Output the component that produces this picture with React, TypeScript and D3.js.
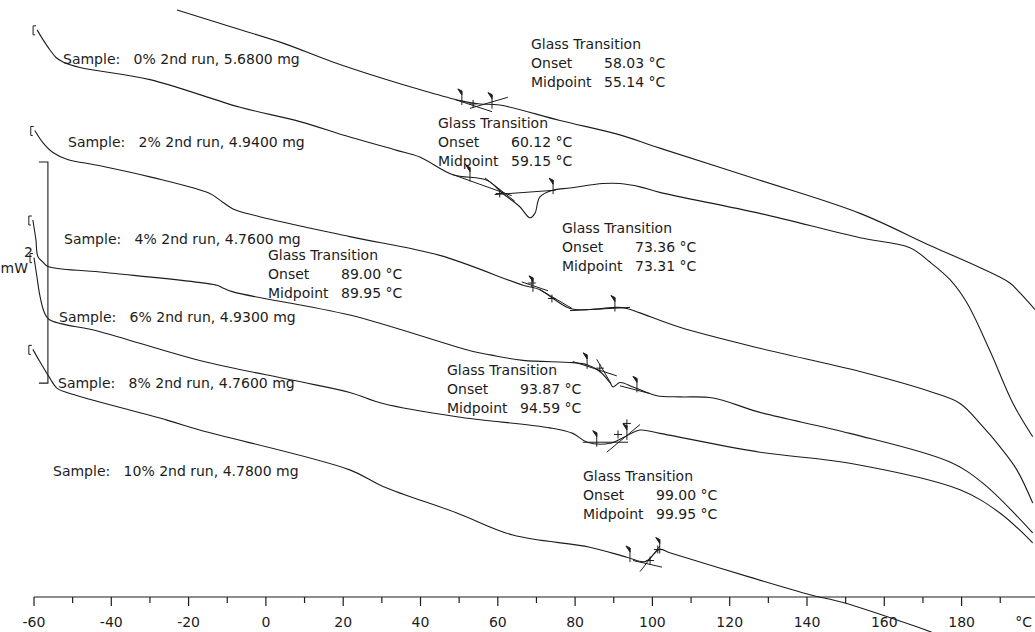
import * as d3 from 'd3';

const W = 1035;
const H = 632;

// temperature (°C) and heat flow (mW, curves stacked with their own offsets)
const run1Temp = [-23.0, -9.3, 4.4, 17.3, 30.3, 39.8, 50.2, 55.4, 60.5, 76.1, 91.6, 101.9, 127.8, 153.7, 171.8, 184.7, 192.5, 195.1, 199.0];
const run1Flow = [-0.09, -0.24, -0.39, -0.56, -0.71, -0.81, -0.91, -0.94, -0.95, -1.09, -1.22, -1.34, -1.63, -1.93, -2.22, -2.42, -2.56, -2.65, -2.80];

const run2Temp = [-59.2, -58.0, -55.9, -54.3, -52.5, -48.1, -30.0, -6.7, 8.8, 21.7, 33.9, 39.8, 48.4, 57.2, 61.3, 65.7, 68.3, 69.6, 70.9, 74.3, 78.7, 87.2, 91.6, 96.8, 101.9, 127.8, 153.7, 166.6, 171.8, 177.0, 181.4, 187.3, 193.3, 198.4];
const run2Flow = [-0.27, -0.34, -0.45, -0.52, -0.56, -0.61, -0.72, -0.97, -1.10, -1.24, -1.36, -1.42, -1.58, -1.63, -1.75, -1.87, -1.97, -1.93, -1.78, -1.72, -1.70, -1.66, -1.66, -1.69, -1.74, -1.93, -2.15, -2.24, -2.37, -2.53, -2.74, -3.17, -3.65, -3.95];

const run3Temp = [-59.8, -57.7, -55.1, -51.5, -42.9, -30.0, -14.5, -11.9, -8.5, -1.6, 21.7, 45.0, 66.5, 70.9, 74.3, 78.7, 83.8, 90.8, 93.4, 96.8, 107.1, 127.8, 153.7, 172.6, 179.6, 185.5, 189.9, 194.3, 198.4];
const run3Flow = [-1.18, -1.29, -1.38, -1.44, -1.50, -1.60, -1.75, -1.81, -1.89, -1.96, -2.14, -2.31, -2.58, -2.62, -2.70, -2.79, -2.80, -2.78, -2.79, -2.83, -2.96, -3.15, -3.36, -3.55, -3.65, -3.86, -4.04, -4.25, -4.55];

const run4Temp = [-60.3, -59.5, -59.0, -57.7, -56.4, -42.9, -12.7, -11.4, -8.5, 21.7, 53.6, 58.0, 66.5, 79.4, 83.1, 86.4, 89.0, 89.8, 91.6, 95.0, 101.2, 107.1, 115.7, 127.8, 151.1, 177.0, 185.5, 198.4];
const run4Flow = [-1.99, -2.17, -2.32, -2.37, -2.41, -2.46, -2.58, -2.60, -2.64, -2.85, -3.18, -3.21, -3.26, -3.28, -3.30, -3.36, -3.46, -3.50, -3.46, -3.50, -3.58, -3.59, -3.60, -3.73, -3.92, -4.18, -4.37, -4.82];

const run5Temp = [-60.0, -59.3, -58.5, -57.4, -56.1, -42.9, -17.1, 7.0, 21.7, 30.3, 49.4, 73.5, 79.4, 83.1, 89.0, 92.9, 96.8, 101.9, 127.8, 151.1, 179.6, 189.9, 198.4];
const run5Flow = [-2.33, -2.49, -2.67, -2.82, -2.89, -3.00, -3.26, -3.44, -3.55, -3.65, -3.77, -3.87, -3.92, -4.00, -4.01, -3.95, -3.89, -3.92, -4.09, -4.19, -4.43, -4.64, -4.91];

const run6Temp = [-60.3, -58.5, -55.9, -54.1, -51.5, -25.6, -17.1, 21.7, 30.3, 49.4, 63.9, 83.8, 93.4, 98.1, 101.9, 104.5, 125.2, 140.8, 149.3, 168.4, 173.1];
const run6Flow = [-3.16, -3.27, -3.42, -3.51, -3.55, -3.80, -3.89, -4.25, -4.40, -4.64, -4.84, -4.95, -5.04, -5.08, -4.97, -5.00, -5.22, -5.38, -5.45, -5.67, -5.73];

const runTemps = [run1Temp, run2Temp, run3Temp, run4Temp, run5Temp, run6Temp];
const runFlows = [run1Flow, run2Flow, run3Flow, run4Flow, run5Flow, run6Flow];
const runHasStart = [false, true, true, true, true, true];

const sampleLabels = [
  'Sample:   0% 2nd run, 5.6800 mg',
  'Sample:   2% 2nd run, 4.9400 mg',
  'Sample:   4% 2nd run, 4.7600 mg',
  'Sample:   6% 2nd run, 4.9300 mg',
  'Sample:   8% 2nd run, 4.7600 mg',
  'Sample:   10% 2nd run, 4.7800 mg',
];

// glass transition evaluations, one per run
const tgOnset = ['58.03', '60.12', '73.36', '89.00', '93.87', '99.00'];
const tgMidpoint = ['55.14', '59.15', '73.31', '89.95', '94.59', '99.95'];
const tgLimits = [[50.7, 58.5], [52.8, 74.3], [69.1, 90.3], [83.1, 96.0], [85.6, 93.4], [94.2, 101.9]];
const tgTangents = [
  [[48.9, -0.90, 58.5, -1.01], [52.8, -0.98, 62.6, -0.88]],
  [[48.4, -1.58, 63.6, -1.77], [56.7, -1.61, 64.4, -1.82], [59.2, -1.76, 75.0, -1.72]],
  [[66.2, -2.55, 73.0, -2.63], [70.9, -2.62, 79.2, -2.79], [78.7, -2.81, 94.2, -2.78]],
  [[79.4, -3.27, 90.8, -3.40], [85.6, -3.25, 89.3, -3.47], [91.6, -3.49, 99.4, -3.56]],
  [[82.0, -4.00, 93.7, -4.00], [88.2, -4.09, 96.8, -3.84]],
  [[95.0, -5.07, 102.5, -5.13], [96.8, -5.17, 101.9, -4.94]],
];
const tgMarks = [
  [[53.6, -0.94]],
  [[60.5, -1.75]],
  [[68.8, -2.56], [74.0, -2.70]],
  [[86.4, -3.33]],
  [[91.1, -3.93], [93.4, -3.83]],
  [[99.4, -5.07], [101.4, -4.97]],
];

const majorTicks = [-60, -40, -20, 0, 20, 40, 60, 80, 100, 120, 140, 160, 180];
const minorTicks = [-50, -30, -10, 10, 30, 50, 70, 90, 110, 130, 150, 170, 190];

// scale bar: 2 mW
const barTemp = -56.4;
const barFlow = [-1.465, -3.465];

// layout (px)
const labelPos = [[63, 64], [68, 147], [64, 244], [59, 322], [58, 388], [53, 476]];
const tgTextPos = [[531, 49], [438, 128], [562, 233], [268, 260], [447, 375], [583, 481]];
const axisY = 597;
const font = 'DejaVu Sans';
const ink = '#1c1c1c';

export default function App() {
  const x = d3.scaleLinear().domain([-60, 200]).range([34, 34 + 260 * 3.865]);
  const y = d3.scaleLinear().domain([0, -5.4]).range([0, axisY]);

  const line = d3.line<[number, number]>()
    .x(d => x(d[0]))
    .y(d => y(d[1]))
    .curve(d3.curveCatmullRom.alpha(0.5));

  const runs = runTemps.map((ts, i) => ts.map((t, j) => [t, runFlows[i][j]] as [number, number]));
  const interp = runTemps.map((ts, i) => d3.scaleLinear().domain(ts).range(runFlows[i]));

  return (
    <svg width={W} height={H} style={{ position: 'absolute', left: 0, top: 0, background: '#fff' }}
      fontFamily={font} fontSize={14} fill={ink}>
      <rect width={W} height={H} fill="#fff" />

      {/* curves */}
      {runs.map((pts, i) => (
        <path key={'c' + i} d={line(pts) || ''} fill="none" stroke={ink} strokeWidth={1.1} />
      ))}

      {/* run start brackets */}
      {runs.map((pts, i) => {
        if (!runHasStart[i]) return null;
        const x0 = x(pts[0][0]) - 4;
        const y0 = y(pts[0][1]);
        return (
          <path key={'b' + i} d={`M${x0 + 3},${y0 - 4} H${x0} V${y0 + 5} H${x0 + 2}`}
            fill="none" stroke={ink} strokeWidth={1} />
        );
      })}

      {/* glass transition evaluation marks */}
      {tgLimits.map((lim, i) => (
        <g key={'tg' + i} stroke={ink} strokeWidth={1} fill="none">
          {lim.map((t, k) => {
            const px = x(t);
            const py = y(interp[i](t));
            return (
              <g key={k}>
                <line x1={px} x2={px} y1={py + 4} y2={py - 10} />
                <path d={`M${px},${py - 10} L${px - 4},${py - 12} L${px},${py - 6} Z`} fill={ink} />
              </g>
            );
          })}
          {tgTangents[i].map((s, k) => (
            <line key={'t' + k} x1={x(s[0])} y1={y(s[1])} x2={x(s[2])} y2={y(s[3])} />
          ))}
          {tgMarks[i].map((m, k) => (
            <path key={'m' + k}
              d={`M${x(m[0]) - 4},${y(m[1])} h8 M${x(m[0])},${y(m[1]) - 4} v8`} />
          ))}
        </g>
      ))}

      {/* sample labels */}
      {sampleLabels.map((s, i) => (
        <text key={'l' + i} x={labelPos[i][0]} y={labelPos[i][1]} style={{ whiteSpace: 'pre' }}>{s}</text>
      ))}

      {/* glass transition text */}
      {tgOnset.map((v, i) => {
        const [tx, ty] = tgTextPos[i];
        return (
          <g key={'tt' + i}>
            <text x={tx} y={ty}>Glass Transition</text>
            <text x={tx} y={ty + 19}>Onset</text>
            <text x={tx + 73} y={ty + 19}>{v} °C</text>
            <text x={tx} y={ty + 38}>Midpoint</text>
            <text x={tx + 73} y={ty + 38}>{tgMidpoint[i]} °C</text>
          </g>
        );
      })}

      {/* scale bar */}
      <path d={`M${x(barTemp) - 9},${y(barFlow[0])} H${x(barTemp)} V${y(barFlow[1])} H${x(barTemp) - 9}`}
        fill="none" stroke={ink} strokeWidth={1.1} />
      <text x={33} y={257} textAnchor="end">2</text>
      <text x={28} y={273} textAnchor="end">mW</text>

      {/* temperature axis */}
      <line x1={x(-60)} x2={W} y1={axisY} y2={axisY} stroke={ink} strokeWidth={1.2} />
      {majorTicks.map(t => (
        <g key={'M' + t}>
          <line x1={x(t)} x2={x(t)} y1={axisY} y2={axisY + 9} stroke={ink} strokeWidth={1.2} />
          <text x={x(t)} y={627} textAnchor="middle">{t}</text>
        </g>
      ))}
      {minorTicks.map(t => (
        <line key={'m' + t} x1={x(t)} x2={x(t)} y1={axisY} y2={axisY + 6} stroke={ink} strokeWidth={1.2} />
      ))}
      <text x={1032} y={627} textAnchor="end">°C</text>
    </svg>
  );
}
